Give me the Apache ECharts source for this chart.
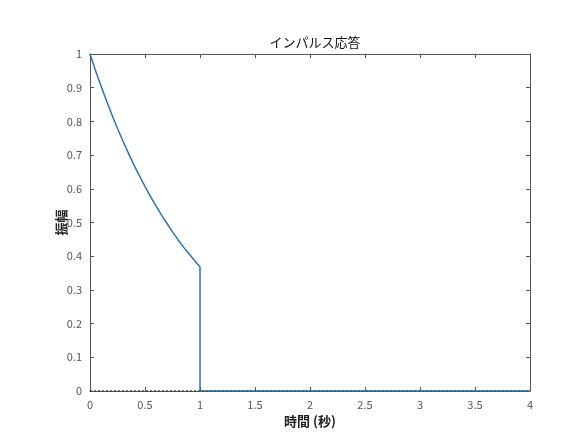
<!DOCTYPE html>
<html>
<head>
<meta charset="utf-8">
<script src="https://cdn.jsdelivr.net/npm/echarts@6/dist/echarts.min.js"></script>
<style>html,body{margin:0;padding:0;background:#fff;}#c{width:586px;height:440px;}</style>
</head>
<body>
<div id="c"></div>
<script>
const titleText = 'インパルス応答';
const xName = '時間 (秒)';
const yName = '振幅';
const timeValues = [0,0.05,0.1,0.15,0.2,0.25,0.3,0.35,0.4,0.45,0.5,0.55,0.6,0.65,0.7,0.75,0.8,0.85,0.9,0.95,1,1,4];
const ampValues = [1,0.951,0.905,0.861,0.819,0.779,0.741,0.705,0.670,0.638,0.607,0.577,0.549,0.522,0.497,0.472,0.449,0.427,0.407,0.387,0.368,0,0];
const zeroLineX = [0,4];
const zeroLineY = [0,0];

const font = '"Noto Sans CJK JP", "Noto Sans", sans-serif';
const axisColor = '#555';
const chart = echarts.init(document.getElementById('c'));
const resp = timeValues.map((t,i)=>[t, ampValues[i]]);
const zero = zeroLineX.map((t,i)=>[t, zeroLineY[i]]);
const commonAxis = () => ({
  axisLine:{show:true, onZero:false, lineStyle:{color:axisColor, width:1}},
  axisTick:{show:true, inside:true, length:4, lineStyle:{color:axisColor}},
  splitLine:{show:false},
});
chart.setOption({
  animation:false,
  title:{text:titleText, left:310, textAlign:'center', top:31,
    textStyle:{fontFamily:font, fontSize:13, fontWeight:'normal', color:'#111'}},
  grid:{left:90, right:56, top:54, bottom:49},
  xAxis:[
    Object.assign({type:'value', min:0, max:4, interval:0.5, position:'bottom',
      name:xName, nameLocation:'middle', nameGap:19,
      nameTextStyle:{fontFamily:font, fontSize:13, fontWeight:'bold', color:'#222'},
      axisLabel:{fontFamily:font, fontSize:11, color:'#555', margin:8}}, commonAxis()),
    Object.assign({type:'value', min:0, max:4, interval:0.5, position:'top',
      axisLabel:{show:false}}, commonAxis())
  ],
  yAxis:[
    Object.assign({type:'value', min:0, max:1, interval:0.1, position:'left',
      name:yName, nameLocation:'middle', nameGap:22, nameRotate:90, nameMoveOverlap:false,
      nameTextStyle:{fontFamily:font, fontSize:13, fontWeight:'bold', color:'#222'},
      axisLabel:{fontFamily:font, fontSize:11, color:'#555', margin:8}}, commonAxis()),
    Object.assign({type:'value', min:0, max:1, interval:0.1, position:'right',
      axisLabel:{show:false}}, commonAxis())
  ],
  series:[
    {type:'line', data:zero, symbol:'none', z:1,
      lineStyle:{color:'#000', width:1, type:[2,2]}},
    {type:'line', data:resp, symbol:'none', z:2,
      lineStyle:{color:'#2f72ad', width:1.5}}
  ]
});
</script>
</body>
</html>
